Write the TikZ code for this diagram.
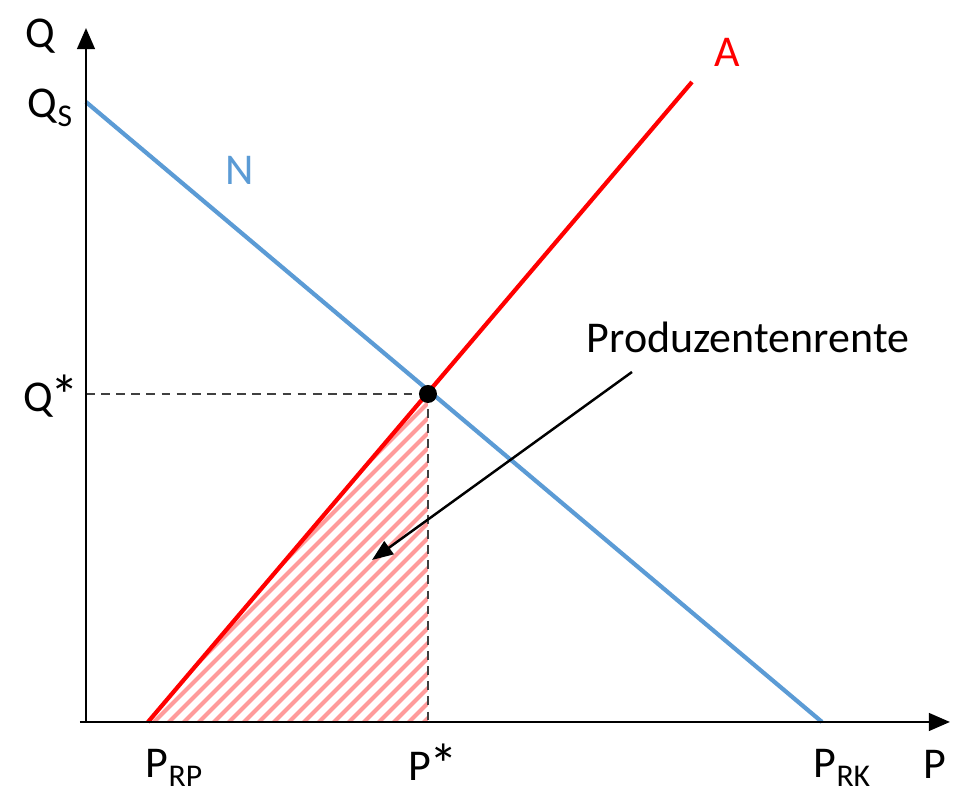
\documentclass[tikz,border=0pt]{standalone}
\usepackage{fontspec}
\setmainfont{Carlito}
\usetikzlibrary{arrows.meta, positioning}
\definecolor{nblue}{HTML}{5B9BD5}
\definecolor{ared}{HTML}{FF0000}
\definecolor{hatchred}{HTML}{FF9B9B}
\newcommand{\lowidx}[1]{\raisebox{-0.45ex}{\fontsize{9}{10}\selectfont #1}}
\newcommand{\bigstar}{\kern-0.6pt\raisebox{-0.2ex}{\scalebox{1.3}{*}}}
\tikzset{
  axisline/.style={-{Triangle[length=6pt,width=5pt]},line width=0.75pt,black},
  curveN/.style={nblue,line width=1.2pt},
  curveA/.style={ared,line width=1.2pt},
  guideline/.style={dash pattern=on 2.5pt off 1.8pt,line width=0.5pt,black!75},
  hatchline/.style={hatchred,line width=1.15pt},
  lbl/.style={font=\fontsize{12.5}{15}\selectfont,inner sep=1pt},
  pointer/.style={-{Triangle[length=6pt,width=4.5pt]},line width=0.7pt},
}
\begin{document}
\begin{tikzpicture}[x=0.01cm,y=-0.01cm]
  \useasboundingbox (0,0) rectangle (956,792);
  \coordinate (O) at (86,722);
  \coordinate (ytop) at (86,28);
  \coordinate (xleft) at (80,722);
  \coordinate (xright) at (950,722);
  \coordinate (qs) at (86,102);
  \coordinate (prk) at (822,722);
  \coordinate (prp) at (148,722);
  \coordinate (atop) at (692,82);
  \coordinate (eq) at (428,394);
  \coordinate (qstar) at (86,394);
  \coordinate (pstar) at (428,722);
  \coordinate (ptail) at (632,372);
  \coordinate (phead) at (372,560);
  \begin{scope}
    \clip (prp) -- (eq) -- (pstar) -- cycle;
    \foreach \k in {-30,...,30}
      \draw[hatchline] (148+\k*15,728) -- ++(400,-400);
  \end{scope}
  \draw[guideline] (qstar) -- (eq);
  \draw[guideline] (eq) -- (pstar);
  \draw[curveN] (qs) -- (prk);
  \draw[curveA] (prp) -- (atop);
  \draw[axisline] (O) -- (ytop);
  \draw[axisline] (xleft) -- (xright);
  \fill (eq) circle (9);
  \draw[pointer] (ptail) -- (phead);
  \node[lbl] (lQ) at (40,36) {Q};
  \node[lbl] (lQs) at (50,108) {Q\lowidx{S}};
  \node[lbl] (lQstar) at (51,396) {Q\bigstar};
  \node[lbl] (lPrp) at (174,768) {P\lowidx{RP}};
  \node[lbl] (lPstar) at (433,764) {P\bigstar};
  \node[lbl] (lPrk) at (842,768) {P\lowidx{RK}};
  \node[lbl] (lP) at (935,764) {P};
  \node[lbl,text=nblue] (lN) at (240,170) {N};
  \node[lbl,text=ared] (lA) at (727,52) {A};
  \node[lbl] (lPR) at (748,337) {Produzentenrente};
\end{tikzpicture}
\end{document}
